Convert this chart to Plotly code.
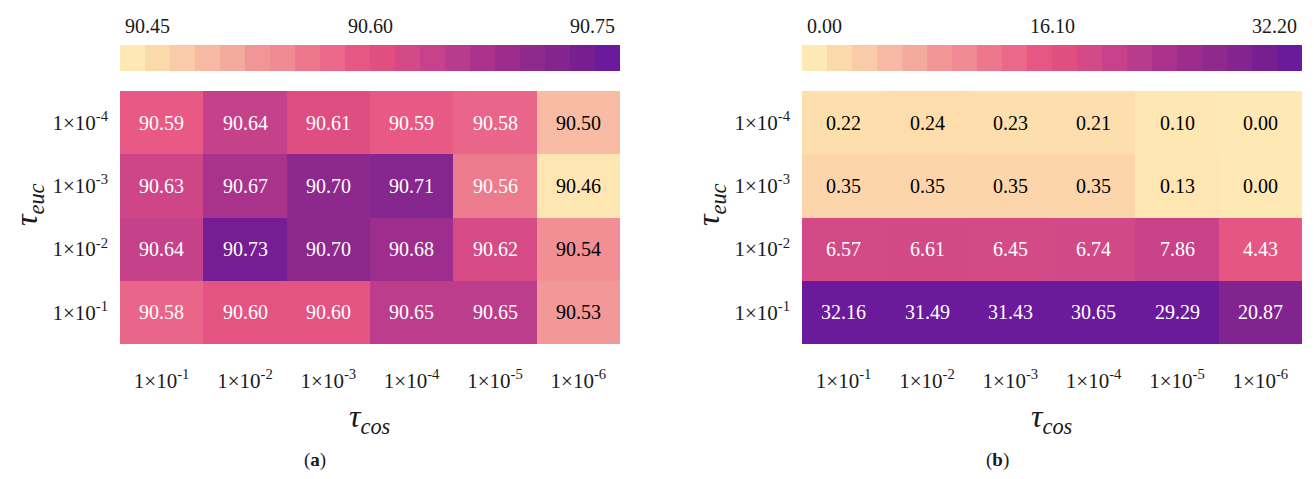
import numpy as np
import plotly.graph_objects as go

# ---------------- data ----------------
cos_labels = ["1×10<sup>-1</sup>", "1×10<sup>-2</sup>", "1×10<sup>-3</sup>",
              "1×10<sup>-4</sup>", "1×10<sup>-5</sup>", "1×10<sup>-6</sup>"]
euc_labels = ["1×10<sup>-4</sup>", "1×10<sup>-3</sup>", "1×10<sup>-2</sup>", "1×10<sup>-1</sup>"]  # top -> bottom

acc_a = [
    [90.59, 90.64, 90.61, 90.59, 90.58, 90.50],
    [90.63, 90.67, 90.70, 90.71, 90.56, 90.46],
    [90.64, 90.73, 90.70, 90.68, 90.62, 90.54],
    [90.58, 90.60, 90.60, 90.65, 90.65, 90.53],
]
vals_b = [
    [0.22, 0.24, 0.23, 0.21, 0.10, 0.00],
    [0.35, 0.35, 0.35, 0.35, 0.13, 0.00],
    [6.57, 6.61, 6.45, 6.74, 7.86, 4.43],
    [32.16, 31.49, 31.43, 30.65, 29.29, 20.87],
]
range_a = [90.45, 90.75]
range_b = [0.00, 32.20]
cbar_ticks_a = ["90.45", "90.60", "90.75"]
cbar_ticks_b = ["0.00", "16.10", "32.20"]

palette = ["#FEE8B3", "#FCD9AA", "#FACBA8", "#F8B9A4", "#F5AA9E",
           "#F29597", "#F08A93", "#ED788D", "#EB688B", "#E75784",
           "#E14E80", "#D44A86", "#C7428A", "#B93C8C", "#AB338D",
           "#9C2D8D", "#8F298D", "#84258F", "#771E91", "#6A1A9B"]

# ---------------- helpers ----------------
W, H = 1314, 479
n = len(palette)
cont_scale = [[0.0, palette[0]]] + [[(i + 0.5) / n, c] for i, c in enumerate(palette)] + [[1.0, palette[-1]]]
disc_scale = []
for i, c in enumerate(palette):
    disc_scale.append([i / n, c])
    disc_scale.append([(i + 1) / n, c])

FONT = "Liberation Serif"
TXT = "#1a1a1a"

panels = [
    dict(x0=120, x1=620, z=np.array(acc_a), raw=acc_a, rng=range_a, log=False,
         ticks=cbar_ticks_a, label="(<b>a</b>)", lx=315, tx=28),
    dict(x0=802, x1=1302, z=np.array(vals_b), raw=vals_b, rng=range_b, log=True,
         ticks=cbar_ticks_b, label="(<b>b</b>)", lx=997, tx=710),
]
top, bottom = 91, 344
cb_top, cb_h = 45, 26

fig = go.Figure()
annotations = []
for k, p in enumerate(panels):
    xa = "x" if k == 0 else "x2"
    ya = "y" if k == 0 else "y2"
    if p["log"]:
        zz = np.log1p(p["z"])
        zmin, zmax = np.log1p(p["rng"][0]), np.log1p(p["rng"][1])
    else:
        zz = p["z"]
        zmin, zmax = p["rng"]
    fig.add_trace(go.Heatmap(z=zz, x=cos_labels, y=euc_labels, zmin=zmin, zmax=zmax,
                             colorscale=cont_scale, showscale=False, xaxis=xa, yaxis=ya,
                             hoverinfo="skip", xgap=0, ygap=0))
    # cell texts (annotated heatmap)
    for r, row in enumerate(p["raw"]):
        for c, v in enumerate(row):
            t = (zz[r][c] - zmin) / (zmax - zmin)
            annotations.append(dict(x=cos_labels[c], y=euc_labels[r], xref=xa, yref=ya,
                                    text=f"{v:.2f}", showarrow=False,
                                    font=dict(family=FONT, size=20,
                                              color="black" if t < 0.33 else "white")))
    # colorbar carrier
    fig.add_trace(go.Scatter(x=[cos_labels[0]], y=[euc_labels[0]], mode="markers", xaxis=xa, yaxis=ya,
                             hoverinfo="skip", showlegend=False,
                             marker=dict(size=0.1, opacity=0, color=[p["rng"][0]],
                                         cmin=p["rng"][0], cmax=p["rng"][1],
                                         colorscale=disc_scale, showscale=True,
                                         colorbar=dict(orientation="h", x=p["x0"] / W, xanchor="left",
                                                       y=1 - cb_top / H, yanchor="top",
                                                       len=p["x1"] - p["x0"], lenmode="pixels",
                                                       thickness=cb_h, thicknessmode="pixels",
                                                       outlinewidth=0, showticklabels=False, ticks="",
                                                       xpad=0, ypad=0))))
    # colorbar tick labels
    ly = 1 - 26 / H
    cb_labels = [
        dict(x=(p["x0"] + 3) / W, y=ly, text=p["ticks"][0], xanchor="left"),
        dict(x=(p["x0"] + p["x1"]) / 2 / W, y=ly, text=p["ticks"][1], xanchor="center"),
        dict(x=(p["x1"] - 3) / W, y=ly, text=p["ticks"][2], xanchor="right"),
    ]
    for a in cb_labels:
        a.update(xref="paper", yref="paper", yanchor="middle", showarrow=False,
                 font=dict(family=FONT, size=20, color=TXT))
    annotations += cb_labels
    # axis titles
    annotations.append(dict(x=(p["x0"] + p["x1"]) / 2 / W, y=1 - 418 / H, xref="paper", yref="paper",
                            text="<i>τ<sub>cos</sub></i>", showarrow=False, xanchor="center", yanchor="middle",
                            font=dict(family=FONT, size=32, color=TXT)))
    annotations.append(dict(x=p["tx"] / W, y=1 - 205 / H, xref="paper", yref="paper", textangle=-90,
                            text="<i>τ<sub>euc</sub></i>", showarrow=False, xanchor="center", yanchor="middle",
                            font=dict(family=FONT, size=32, color=TXT)))
    annotations.append(dict(x=p["lx"] / W, y=1 - 460 / H, xref="paper", yref="paper",
                            text=p["label"], showarrow=False, xanchor="center", yanchor="middle",
                            font=dict(family=FONT, size=19, color=TXT)))

axis_common = dict(showgrid=False, zeroline=False, showline=False, ticks="",
                   tickfont=dict(family=FONT, size=21, color=TXT), fixedrange=True)
fig.update_layout(
    width=W, height=H, margin=dict(l=0, r=0, t=0, b=0),
    paper_bgcolor="white", plot_bgcolor="white", showlegend=False,
    xaxis=dict(domain=[120 / W, 620 / W], anchor="y", ticklabelstandoff=22, **axis_common),
    yaxis=dict(domain=[1 - bottom / H, 1 - top / H], anchor="x", autorange="reversed",
               ticklabelstandoff=11, **axis_common),
    xaxis2=dict(domain=[802 / W, 1302 / W], anchor="y2", ticklabelstandoff=22, **axis_common),
    yaxis2=dict(domain=[1 - bottom / H, 1 - top / H], anchor="x2", autorange="reversed",
                ticklabelstandoff=11, **axis_common),
    annotations=annotations,
)
fig.write_html("out.html", config={"displayModeBar": False},
               post_script="document.body.style.margin='0px';document.body.style.overflow='hidden';")
